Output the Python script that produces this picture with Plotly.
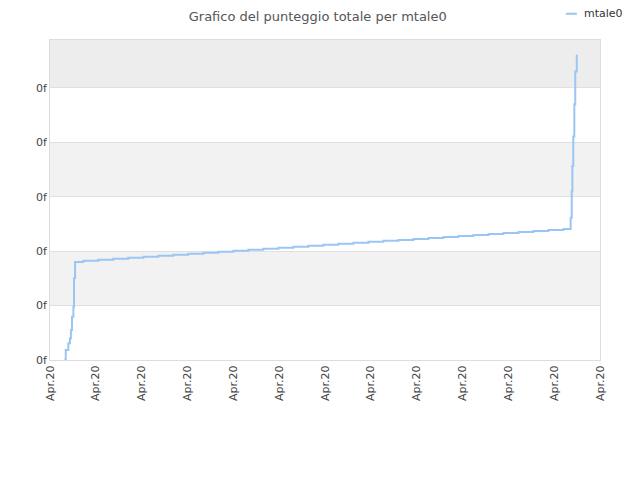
import plotly.graph_objects as go

# punteggio totale nel tempo (mtale0)
giorni = [0.94, 1.03, 1.20, 1.31, 1.37, 1.44, 1.53, 1.57, 1.64,
          2.18, 3.16, 4.14, 5.12, 6.11, 7.09, 8.07, 9.05, 10.04, 11.02,
          12.00, 12.98, 13.96, 14.95, 15.93, 16.91, 17.89, 18.87, 19.86,
          20.84, 21.82, 22.80, 23.79, 24.77, 25.75, 26.73, 27.71, 28.70,
          29.68, 30.66, 31.64, 32.62, 33.61,
          34.08, 34.15, 34.19, 34.25, 34.32, 34.38, 34.48]
punteggio = [0, 18.4, 30.7, 39.9, 55.1, 79.6, 98.0, 150.0, 180.1,
             182.5, 184.3, 186.1, 188.0, 189.8, 191.6, 193.4, 195.2, 197.1, 198.9,
             200.7, 202.5, 204.3, 206.2, 208.0, 209.8, 211.6, 213.4, 215.3,
             217.1, 218.9, 220.7, 222.5, 224.4, 226.2, 228.0, 229.8, 231.6,
             233.5, 235.3, 237.1, 238.9, 240.8,
             261.6, 310.7, 356.6, 410.5, 470.0, 530.0, 560.7]

x_ticks = [0, 3, 6, 9, 12, 15, 18, 21, 24, 27, 30, 33, 36]
x_labels = ["Apr.20"] * len(x_ticks)
y_ticks = [0, 100, 200, 300, 400, 500]
y_labels = ["0f"] * len(y_ticks)
y_max = 588
serie = "mtale0"
colore = "#9ac6f3"

fig = go.Figure()
fig.add_trace(go.Scatter(x=giorni, y=punteggio, name=serie, mode="lines",
                         line=dict(color=colore, width=2, shape="hv"), showlegend=False))

# bande alternate dello sfondo
bands = [(100, 200, "#f2f2f2"), (300, 400, "#f2f2f2"), (500, y_max, "#ededed")]
for y0, y1, col in bands:
    fig.add_shape(type="rect", xref="paper", yref="y", x0=0, x1=1, y0=y0, y1=y1,
                  fillcolor=col, line_width=0, layer="below")

# legenda fatta a mano (quella di plotly sposta i margini)
fig.add_shape(type="line", xref="paper", yref="paper", x0=0.938, x1=0.958,
              y0=1.082, y1=1.082, line=dict(color=colore, width=2))
fig.add_annotation(text=serie, xref="paper", yref="paper", x=0.968, y=1.084,
                   xanchor="left", yanchor="middle", showarrow=False,
                   font=dict(size=11, color="#333"))

fig.update_layout(
    width=640, height=480,
    margin=dict(l=42, r=48, t=32, b=128),
    paper_bgcolor="white", plot_bgcolor="white",
    font=dict(family="DejaVu Sans", size=11, color="#444"),
    title=dict(text="Grafico del punteggio totale per mtale0", x=0.484, xanchor="center",
               y=0.992, yanchor="top", pad=dict(t=0, b=0), font=dict(size=13, color="#555")),
)
fig.update_xaxes(range=[0, 36], tickvals=x_ticks, ticktext=x_labels, tickangle=-90,
                 showgrid=False, showline=True, linecolor="#dddddd", mirror=True,
                 zeroline=False, ticks="", automargin=False)
fig.update_yaxes(range=[0, y_max], tickvals=y_ticks, ticktext=y_labels,
                 showgrid=True, gridcolor="#e0e0e0", showline=True, linecolor="#dddddd",
                 mirror=True, zeroline=False, ticks="", automargin=False)

fig.write_html("out.html")
